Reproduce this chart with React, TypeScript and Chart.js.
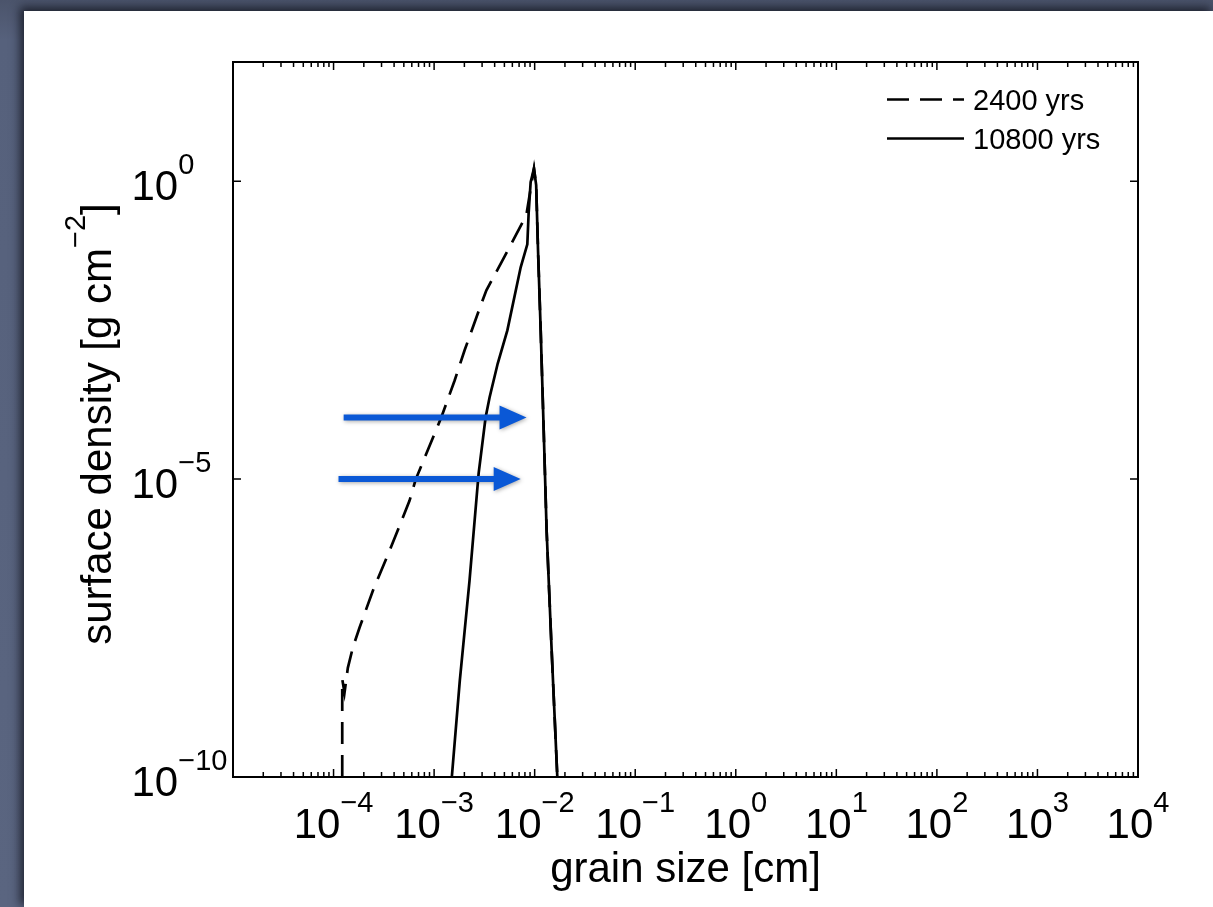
import React, { useEffect, useRef } from "react";
import { Chart, registerables } from "chart.js";

Chart.register(...registerables);

const FONT = '"Liberation Sans", Arial, Helvetica, sans-serif';

// Grain size grid [cm] and surface density [g cm^-2] at 2400 yrs
const earlySize = [
  1.22e-4, 1.22e-4, 1.285e-4, 1.387e-4, 1.556e-4, 1.815e-4, 2.46e-4, 3.61e-4,
  5.7e-4, 6.55e-4, 1.18e-3, 1.6e-3, 2.01e-3, 2.95e-3, 3.31e-3, 5.64e-3, 8.26e-3,
  9.84e-3, 1.035e-2, 1.08e-2, 1.148e-2, 1.23e-2, 1.315e-2, 1.476e-2, 1.68e-2,
];
const earlyDensity = [
  1e-10, 4.4e-9, 2.58e-9, 6.8e-9, 1.49e-8, 3.23e-8, 1.34e-7, 6.3e-7, 4.35e-6,
  9.8e-6, 1.09e-4, 4.52e-4, 1.45e-3, 8.8e-3, 1.47e-2, 7.87e-2, 0.268, 1.63,
  0.857, 6.92e-2, 3.13e-3, 6.53e-5, 1.36e-6, 1.31e-8, 1e-10,
];

// Grain size grid [cm] and surface density [g cm^-2] at 10800 yrs
const lateSize = [
  1.5e-3, 1.8e-3, 2.25e-3, 2.77e-3, 3.25e-3, 3.56e-3, 4.29e-3, 5.35e-3, 7.26e-3,
  8.45e-3, 8.71e-3, 9.12e-3, 9.84e-3, 1.035e-2, 1.08e-2, 1.148e-2, 1.23e-2,
  1.315e-2, 1.476e-2, 1.68e-2,
];
const lateDensity = [
  1e-10, 4.1e-9, 1.97e-7, 1.24e-5, 1.08e-4, 2.34e-4, 8.7e-4, 3.13e-3, 3.59e-2,
  8.73e-2, 0.29, 0.962, 1.63, 0.857, 6.92e-2, 3.13e-3, 6.53e-5, 1.36e-6,
  1.31e-8, 1e-10,
];

const seriesLabels = ["2400 yrs", "10800 yrs"];

// Labelled decades on each axis
const xTickExponents = [-4, -3, -2, -1, 0, 1, 2, 3, 4];
const yTickExponents = [0, -5, -10];

// Annotation arrows: level, tail and tip (data units)
const arrowLevel = [1.08e-4, 1.0e-5];
const arrowTail = [1.26e-4, 1.12e-4];
const arrowTip = [8.3e-3, 7.26e-3];

const X_MIN = 1e-5;
const X_MAX = 1e4;
const Y_MIN = 1e-10;
const Y_MAX = 1e2;

function toPoints(xs: number[], ys: number[]) {
  return xs.map((x, i) => ({ x, y: ys[i] }));
}

function powerWidth(ctx: CanvasRenderingContext2D, exp: string, base: number, sup: number) {
  ctx.font = `${base}px ${FONT}`;
  const wb = ctx.measureText("10").width;
  ctx.font = `${sup}px ${FONT}`;
  const we = ctx.measureText(exp).width;
  return { wb, we };
}

// "10" followed by a raised exponent, starting at (x, baseline)
function drawPower(
  ctx: CanvasRenderingContext2D,
  exp: string,
  x: number,
  baseline: number,
  base: number,
  sup: number,
  raise: number
) {
  const { wb } = powerWidth(ctx, exp, base, sup);
  ctx.font = `${base}px ${FONT}`;
  ctx.fillText("10", x, baseline);
  ctx.font = `${sup}px ${FONT}`;
  ctx.fillText(exp, x + wb, baseline - raise);
}

function expText(e: number) {
  return e < 0 ? "\u2212" + Math.abs(e) : String(e);
}

const axesPlugin = {
  id: "boxedLogAxes",
  beforeDatasetsDraw(chart: any) {
    const { ctx, chartArea: a, scales } = chart;
    const xs = scales.x;
    const ys = scales.y;
    ctx.save();
    ctx.strokeStyle = "#000";
    ctx.lineWidth = 1.5;
    ctx.beginPath();
    for (let d = -5; d <= 3; d++) {
      for (let m = 1; m <= 9; m++) {
        const px = xs.getPixelForValue(m * Math.pow(10, d));
        if (px < a.left + 0.5 || px > a.right - 0.5) continue;
        const len = m === 1 ? 8 : 5;
        ctx.moveTo(px, a.bottom);
        ctx.lineTo(px, a.bottom - len);
        ctx.moveTo(px, a.top);
        ctx.lineTo(px, a.top + len);
      }
    }
    for (const e of yTickExponents) {
      const py = ys.getPixelForValue(Math.pow(10, e));
      if (py > a.bottom - 0.5 || py < a.top + 0.5) continue;
      ctx.moveTo(a.left, py);
      ctx.lineTo(a.left + 8, py);
      ctx.moveTo(a.right, py);
      ctx.lineTo(a.right - 8, py);
    }
    ctx.stroke();
    ctx.lineWidth = 2;
    ctx.strokeRect(a.left, a.top, a.right - a.left, a.bottom - a.top);
    ctx.restore();
  },
  afterDatasetsDraw(chart: any) {
    const { ctx, scales } = chart;
    const xs = scales.x;
    const ys = scales.y;
    ctx.save();
    ctx.fillStyle = "#0a58d6";
    ctx.shadowColor = "rgba(0,0,0,0.35)";
    ctx.shadowBlur = 4;
    ctx.shadowOffsetX = 1;
    ctx.shadowOffsetY = 1;
    const headLen = 27;
    const headHalf = 12;
    const shaftHalf = 3;
    arrowLevel.forEach((lv, i) => {
      const py = ys.getPixelForValue(lv);
      const x0 = xs.getPixelForValue(arrowTail[i]);
      const x1 = xs.getPixelForValue(arrowTip[i]);
      ctx.beginPath();
      ctx.moveTo(x0, py - shaftHalf);
      ctx.lineTo(x1 - headLen, py - shaftHalf);
      ctx.lineTo(x1 - headLen, py - headHalf);
      ctx.lineTo(x1, py);
      ctx.lineTo(x1 - headLen, py + headHalf);
      ctx.lineTo(x1 - headLen, py + shaftHalf);
      ctx.lineTo(x0, py + shaftHalf);
      ctx.closePath();
      ctx.fill();
    });
    ctx.restore();
  },
  afterDraw(chart: any) {
    const { ctx, chartArea: a, scales } = chart;
    const xs = scales.x;
    const ys = scales.y;
    ctx.save();
    ctx.fillStyle = "#000";
    ctx.textBaseline = "alphabetic";
    ctx.textAlign = "left";

    // x tick labels, centred under each decade
    for (const e of xTickExponents) {
      const px = xs.getPixelForValue(Math.pow(10, e));
      const t = expText(e);
      const { wb, we } = powerWidth(ctx, t, 42, 29);
      drawPower(ctx, t, px - (wb + we) / 2, 838, 42, 29, 26);
    }

    // y tick labels
    for (const e of yTickExponents) {
      const py = ys.getPixelForValue(Math.pow(10, e));
      drawPower(ctx, expText(e), 131.5, py + 19, 42, 29, 26);
    }

    // axis titles
    ctx.font = `42px ${FONT}`;
    ctx.textAlign = "center";
    ctx.fillText("grain size [cm]", (a.left + a.right) / 2, 882);

    ctx.textAlign = "left";
    const main = "surface density [g cm";
    const sup = "\u22122";
    const tail = "]";
    ctx.font = `42px ${FONT}`;
    const w1 = ctx.measureText(main).width;
    const w3 = ctx.measureText(tail).width;
    ctx.font = `29px ${FONT}`;
    const w2 = ctx.measureText(sup).width;
    const total = w1 + w2 + w3;
    ctx.translate(111, 424);
    ctx.rotate(-Math.PI / 2);
    ctx.font = `42px ${FONT}`;
    ctx.fillText(main, -total / 2, 0);
    ctx.font = `29px ${FONT}`;
    ctx.fillText(sup, -total / 2 + w1, -26);
    ctx.font = `42px ${FONT}`;
    ctx.fillText(tail, -total / 2 + w1 + w2, 0);
    ctx.setTransform(1, 0, 0, 1, 0, 0);

    // legend
    chart.data.datasets.forEach((ds: any, i: number) => {
      const ly = 99.5 + i * 39;
      ctx.strokeStyle = ds.borderColor;
      ctx.lineWidth = ds.borderWidth;
      ctx.setLineDash(ds.borderDash || []);
      ctx.beginPath();
      ctx.moveTo(887, ly);
      ctx.lineTo(964, ly);
      ctx.stroke();
      ctx.setLineDash([]);
      ctx.font = `29px ${FONT}`;
      ctx.fillStyle = "#000";
      ctx.fillText(ds.label, 973, ly + 10);
    });
    ctx.restore();
  },
};

export default function App() {
  const canvasRef = useRef<HTMLCanvasElement | null>(null);

  useEffect(() => {
    const canvas = canvasRef.current;
    if (!canvas) return;
    const chart = new Chart(canvas, {
      type: "scatter",
      data: {
        datasets: [
          {
            label: seriesLabels[0],
            data: toPoints(earlySize, earlyDensity),
            showLine: true,
            borderColor: "#000",
            borderWidth: 2.7,
            borderDash: [22, 11],
            pointRadius: 0,
            tension: 0,
          },
          {
            label: seriesLabels[1],
            data: toPoints(lateSize, lateDensity),
            showLine: true,
            borderColor: "#000",
            borderWidth: 2.7,
            pointRadius: 0,
            tension: 0,
          },
        ],
      },
      options: {
        animation: false,
        responsive: false,
        devicePixelRatio: 1,
        layout: { padding: { left: 233, top: 62, right: 75, bottom: 130 } },
        plugins: {
          legend: { display: false },
          tooltip: { enabled: false },
          title: { display: false },
        },
        scales: {
          x: { type: "logarithmic", min: X_MIN, max: X_MAX, display: false },
          y: { type: "logarithmic", min: Y_MIN, max: Y_MAX, display: false },
        },
      },
      plugins: [axesPlugin],
    });
    return () => chart.destroy();
  }, []);

  return (
    <div
      style={{
        position: "fixed",
        inset: 0,
        background: "linear-gradient(180deg, #4b546b 0px, #56617c 40px, #5a6580 100%)",
        overflow: "hidden",
      }}
    >
      <div
        style={{
          position: "absolute",
          left: 24,
          top: 11,
          right: 0,
          bottom: 0,
          background: "#fff",
          boxShadow: "-3px -3px 9px 1px rgba(10,12,20,0.7)",
        }}
      />
      <canvas
        ref={canvasRef}
        width={1213}
        height={907}
        style={{ position: "absolute", left: 0, top: 0, width: 1213, height: 907 }}
      />
    </div>
  );
}
